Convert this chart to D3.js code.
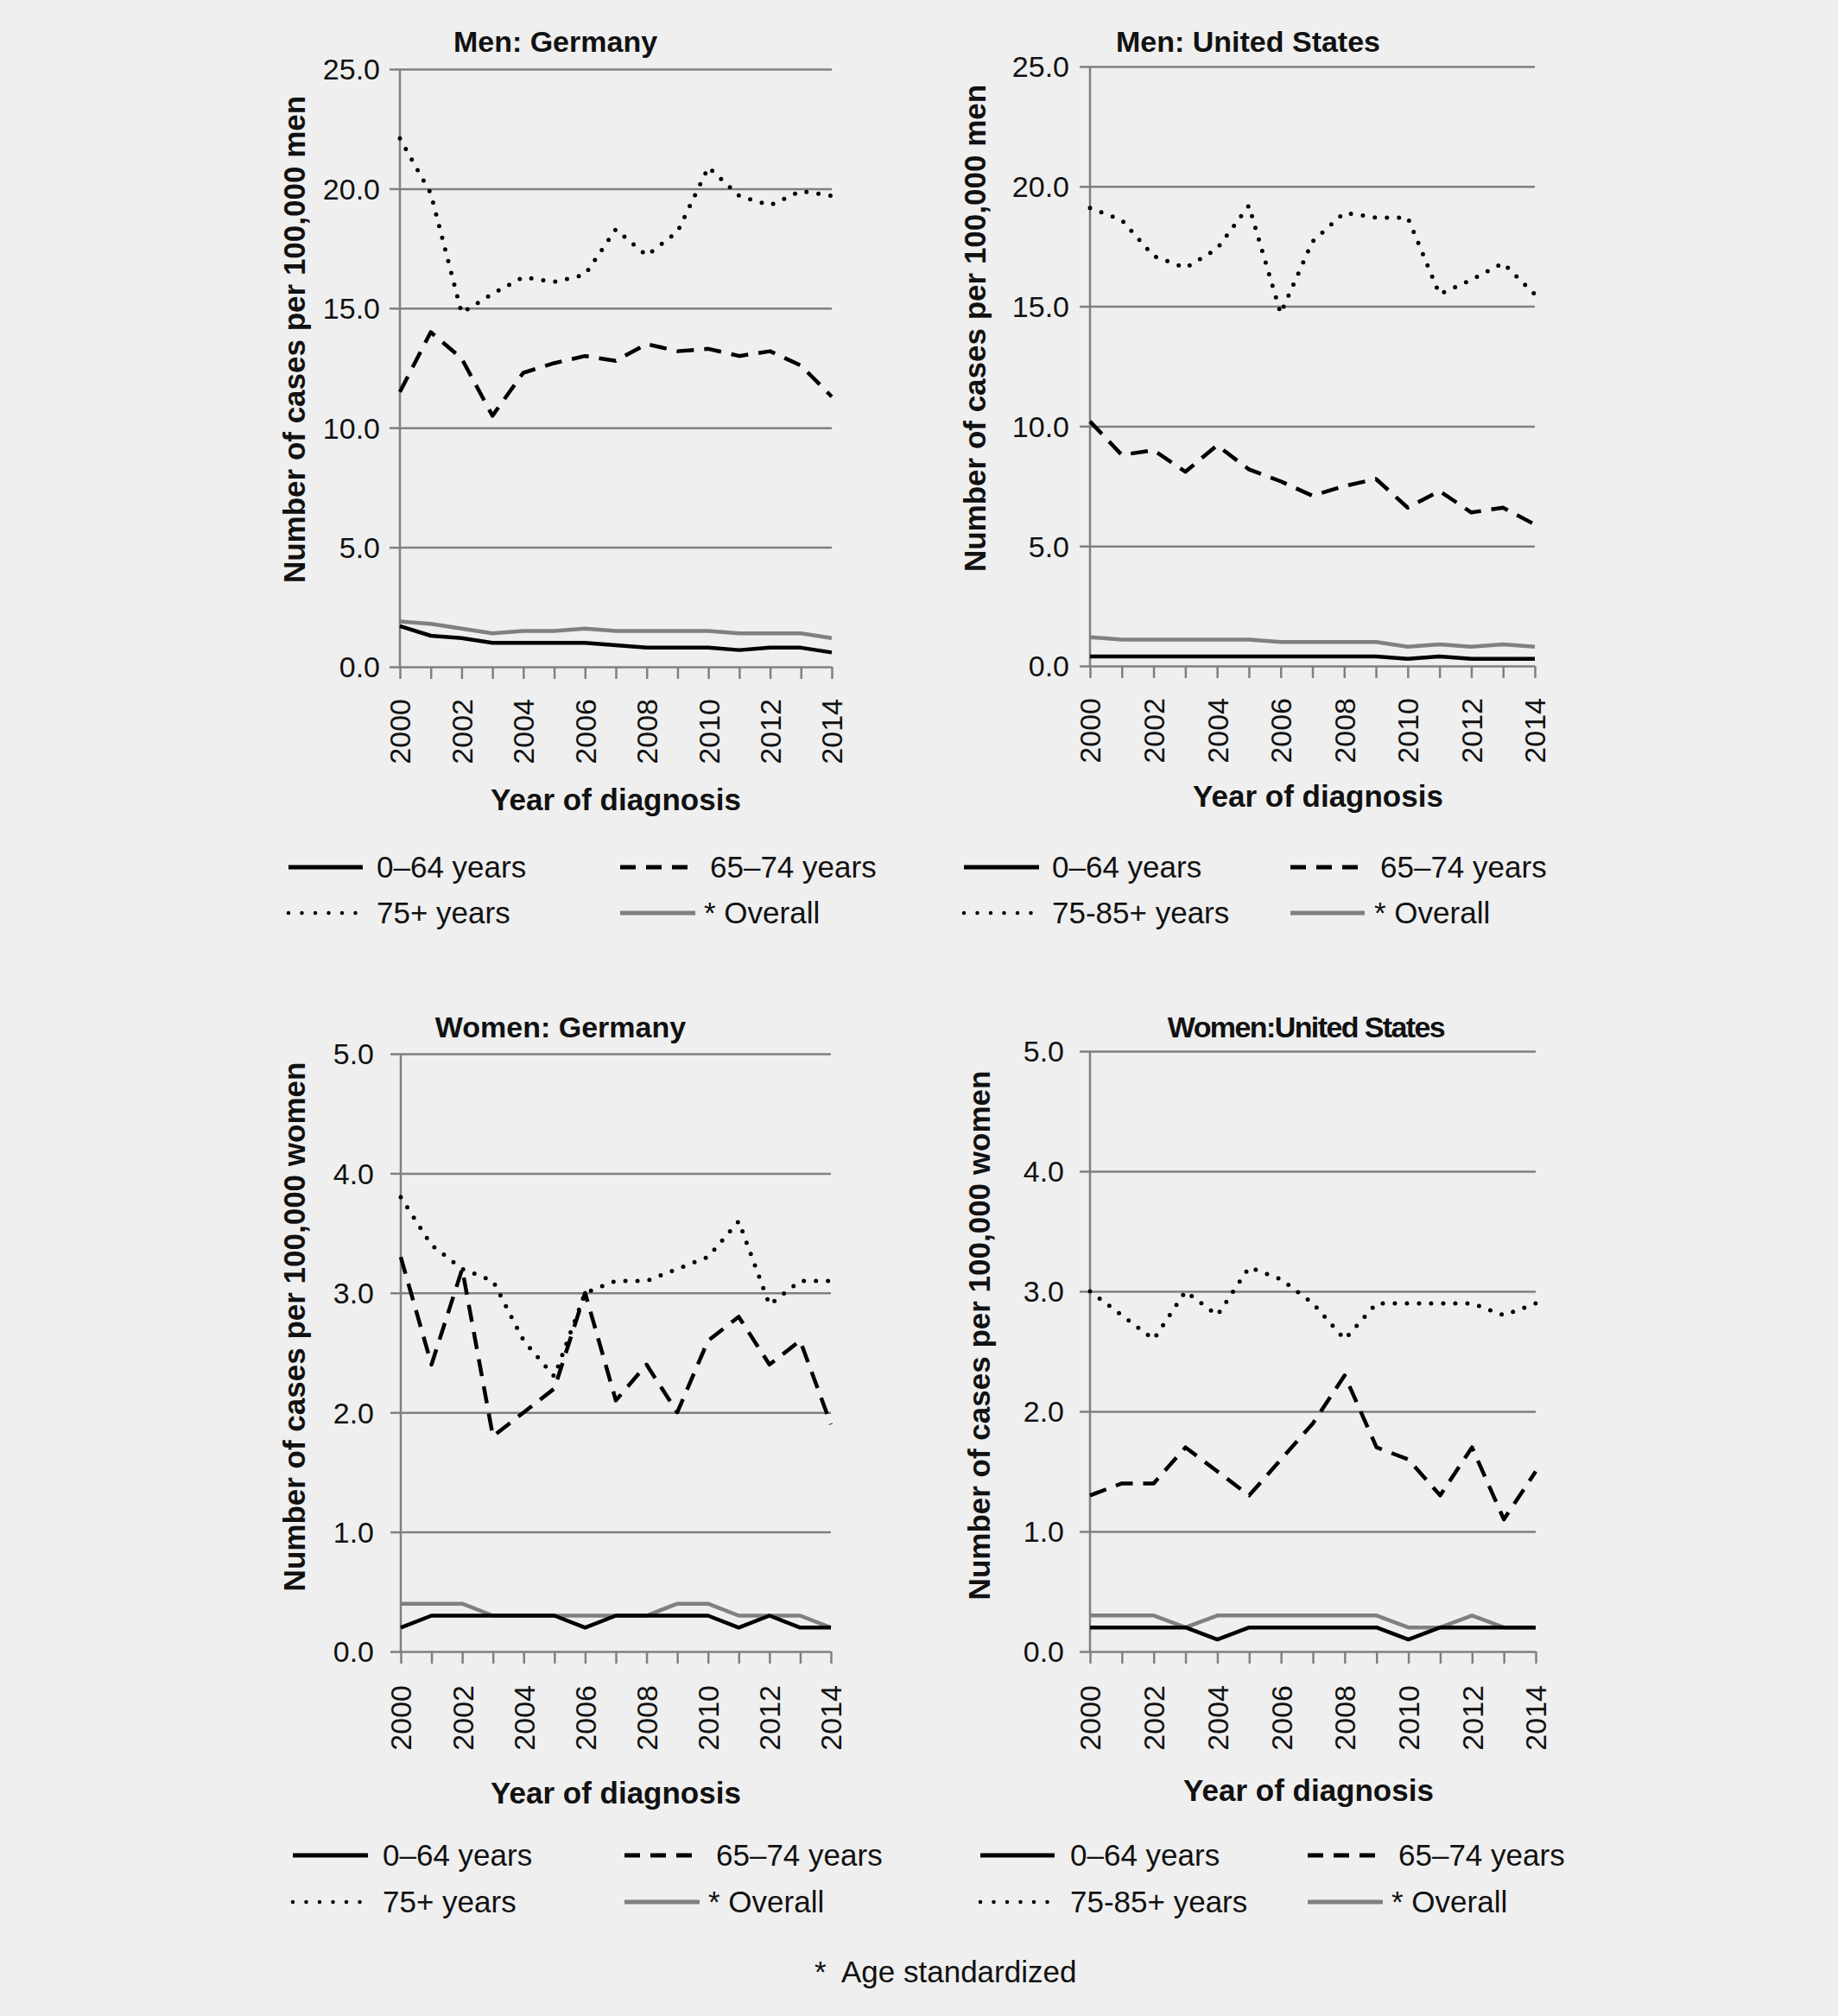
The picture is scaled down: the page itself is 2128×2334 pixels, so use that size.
<!DOCTYPE html>
<html>
<head>
<meta charset="utf-8">
<script src="https://cdn.jsdelivr.net/npm/d3@7"></script>
<style>
  html, body { margin: 0; padding: 0; background: #efefef; }
  svg { display: block; }
  text { font-family: "Liberation Sans", Arial, Helvetica, sans-serif; fill: #111; }
</style>
</head>
<body>
<svg id="chart" width="2128" height="2334"></svg>
<script>
// ---------------- DATA ----------------
const years = [2000, 2001, 2002, 2003, 2004, 2005, 2006, 2007, 2008, 2009, 2010, 2011, 2012, 2013, 2014];
const yearTickLabels = [2000, 2002, 2004, 2006, 2008, 2010, 2012, 2014];

const menTicks = [0, 5, 10, 15, 20, 25];
const womenTicks = [0, 1, 2, 3, 4, 5];

const menGermany_0_64   = [1.7, 1.3, 1.2, 1.0, 1.0, 1.0, 1.0, 0.9, 0.8, 0.8, 0.8, 0.7, 0.8, 0.8, 0.6];
const menGermany_65_74  = [11.5, 14.0, 12.9, 10.5, 12.3, 12.7, 13.0, 12.8, 13.5, 13.2, 13.3, 13.0, 13.2, 12.6, 11.3];
const menGermany_75     = [22.1, 19.8, 14.8, 15.6, 16.3, 16.1, 16.4, 18.3, 17.2, 18.2, 20.9, 19.7, 19.3, 19.9, 19.7];
const menGermany_overall= [1.9, 1.8, 1.6, 1.4, 1.5, 1.5, 1.6, 1.5, 1.5, 1.5, 1.5, 1.4, 1.4, 1.4, 1.2];

const menUS_0_64   = [0.4, 0.4, 0.4, 0.4, 0.4, 0.4, 0.4, 0.4, 0.4, 0.4, 0.3, 0.4, 0.3, 0.3, 0.3];
const menUS_65_74  = [10.2, 8.8, 9.0, 8.1, 9.2, 8.2, 7.7, 7.1, 7.5, 7.8, 6.6, 7.3, 6.4, 6.6, 5.9];
const menUS_75     = [19.1, 18.6, 17.1, 16.6, 17.4, 19.2, 14.7, 17.7, 18.9, 18.7, 18.7, 15.5, 16.1, 16.8, 15.5];
const menUS_overall= [1.2, 1.1, 1.1, 1.1, 1.1, 1.1, 1.0, 1.0, 1.0, 1.0, 0.8, 0.9, 0.8, 0.9, 0.8];

const womenGermany_0_64   = [0.2, 0.3, 0.3, 0.3, 0.3, 0.3, 0.2, 0.3, 0.3, 0.3, 0.3, 0.2, 0.3, 0.2, 0.2];
const womenGermany_65_74  = [3.3, 2.4, 3.2, 1.8, 2.0, 2.2, 3.0, 2.1, 2.4, 2.0, 2.6, 2.8, 2.4, 2.6, 1.9];
const womenGermany_75     = [3.8, 3.4, 3.2, 3.1, 2.6, 2.3, 3.0, 3.1, 3.1, 3.2, 3.3, 3.6, 2.9, 3.1, 3.1];
const womenGermany_overall= [0.4, 0.4, 0.4, 0.3, 0.3, 0.3, 0.3, 0.3, 0.3, 0.4, 0.4, 0.3, 0.3, 0.3, 0.2];

const womenUS_0_64   = [0.2, 0.2, 0.2, 0.2, 0.1, 0.2, 0.2, 0.2, 0.2, 0.2, 0.1, 0.2, 0.2, 0.2, 0.2];
const womenUS_65_74  = [1.3, 1.4, 1.4, 1.7, 1.5, 1.3, 1.6, 1.9, 2.3, 1.7, 1.6, 1.3, 1.7, 1.1, 1.5];
const womenUS_75     = [3.0, 2.8, 2.6, 3.0, 2.8, 3.2, 3.1, 2.9, 2.6, 2.9, 2.9, 2.9, 2.9, 2.8, 2.9];
const womenUS_overall= [0.3, 0.3, 0.3, 0.2, 0.3, 0.3, 0.3, 0.3, 0.3, 0.3, 0.2, 0.2, 0.3, 0.2, 0.2];

const panelTitles = ["Men: Germany", "Men: United States", "Women: Germany", "Women:United States"];
const yAxisTitles = ["Number of cases per 100,000 men", "Number of cases per 100,000 men",
                     "Number of cases per 100,000 women", "Number of cases per 100,000 women"];
const xAxisTitle = "Year of diagnosis";
const legendLabelsGermany = ["0\u201364 years", "65\u201374 years", "75+ years", "* Overall"];
const legendLabelsUS = ["0\u201364 years", "65\u201374 years", "75-85+ years", "* Overall"];
const footnoteMark = "*";
const footnoteText = "Age standardized";

// ---------------- STYLES ----------------
const styles = {
  solid:   { stroke: "#000", width: 4.5, dash: null, cap: "butt" },
  dashed:  { stroke: "#000", width: 4.5, dash: "20 12", cap: "butt" },
  dotted:  { stroke: "#000", width: 5, dash: "0 14", cap: "round" },
  overall: { stroke: "#808080", width: 4.5, dash: null, cap: "butt" }
};
const gridColor = "#808080";

// ---------------- LAYOUT ----------------
const panels = [
  { title: panelTitles[0], titleX: 643, titleY: 60, ls: 0,
    x0: 463, x1: 963, yTop: 80, yBot: 772, ymax: 25, ticks: menTicks,
    yTitle: yAxisTitles[0], yTitleX: 341, yTitleY: 393, labelRight: 440,
    xLabelEnd: 809, xTitleX: 713, xTitleY: 938,
    legend: { rows: [1004, 1057], c1: [334, 420], t1: 436, c2d: [718, 797], t2d: 822, c2g: [718, 805], t2g: 815 },
    labels: legendLabelsGermany,
    series: [menGermany_overall, menGermany_0_64, menGermany_65_74, menGermany_75] },
  { title: panelTitles[1], titleX: 1445, titleY: 60, ls: 0,
    x0: 1262, x1: 1777, yTop: 77, yBot: 771, ymax: 25, ticks: menTicks,
    yTitle: yAxisTitles[1], yTitleX: 1129, yTitleY: 380, labelRight: 1238,
    xLabelEnd: 808, xTitleX: 1526, xTitleY: 934,
    legend: { rows: [1004, 1057], c1: [1116, 1203], t1: 1218, c2d: [1494, 1572], t2d: 1598, c2g: [1494, 1580], t2g: 1591 },
    labels: legendLabelsUS,
    series: [menUS_overall, menUS_0_64, menUS_65_74, menUS_75] },
  { title: panelTitles[2], titleX: 649, titleY: 1201, ls: 0,
    x0: 464, x1: 962, yTop: 1220, yBot: 1912, ymax: 5, ticks: womenTicks,
    yTitle: yAxisTitles[2], yTitleX: 341, yTitleY: 1536, labelRight: 433,
    xLabelEnd: 1951, xTitleX: 713, xTitleY: 2088,
    legend: { rows: [2148, 2202], c1: [339, 426], t1: 443, c2d: [723, 803], t2d: 829, c2g: [723, 810], t2g: 820 },
    labels: legendLabelsGermany,
    series: [womenGermany_overall, womenGermany_0_64, womenGermany_65_74, womenGermany_75] },
  { title: panelTitles[3], titleX: 1512, titleY: 1201, ls: -1.6,
    x0: 1262, x1: 1778, yTop: 1217, yBot: 1912, ymax: 5, ticks: womenTicks,
    yTitle: yAxisTitles[3], yTitleX: 1134, yTitleY: 1546, labelRight: 1232,
    xLabelEnd: 1951, xTitleX: 1515, xTitleY: 2085,
    legend: { rows: [2148, 2202], c1: [1135, 1221], t1: 1239, c2d: [1514, 1593], t2d: 1619, c2g: [1514, 1601], t2g: 1611 },
    labels: legendLabelsUS,
    series: [womenUS_overall, womenUS_0_64, womenUS_65_74, womenUS_75] }
];
const seriesStyles = [styles.overall, styles.solid, styles.dashed, styles.dotted];

const svg = d3.select("#chart");
svg.append("rect").attr("width", 2128).attr("height", 2334).attr("fill", "#efefef");

const fmt = d3.format(".1f");

panels.forEach(p => {
  const g = svg.append("g");
  const x = d3.scaleLinear().domain([years[0], years[years.length - 1]]).range([p.x0, p.x1]);
  const y = d3.scaleLinear().domain([0, p.ymax]).range([p.yBot, p.yTop]);

  // gridlines + y tick labels via axis
  const yAxis = d3.axisLeft(y).tickValues(p.ticks).tickFormat(fmt)
    .tickSize(-(p.x1 - p.x0)).tickSizeOuter(0).tickPadding(0);
  const ya = g.append("g").attr("transform", `translate(${p.x0},0)`).call(yAxis);
  ya.select(".domain").remove();
  ya.selectAll(".tick line").attr("stroke", gridColor).attr("stroke-width", 2.5);
  ya.selectAll(".tick").append("line")
    .attr("x1", -12).attr("x2", 0).attr("stroke", gridColor).attr("stroke-width", 2.5);
  ya.selectAll(".tick text")
    .attr("x", p.labelRight - p.x0).attr("dy", "0.35em")
    .attr("text-anchor", "end").attr("font-size", 34).attr("fill", "#111")
    .style("font-family", "'Liberation Sans', Arial, sans-serif");

  // x axis ticks (every year), labels every 2 years
  const xAxis = d3.axisBottom(x).tickValues(years).tickSize(14).tickSizeOuter(0)
    .tickFormat(d => yearTickLabels.includes(d) ? String(d) : "");
  const xa = g.append("g").attr("transform", `translate(0,${p.yBot})`).call(xAxis);
  xa.select(".domain").remove();
  xa.selectAll(".tick line").attr("stroke", gridColor).attr("stroke-width", 2.5);
  xa.selectAll(".tick text")
    .attr("transform", `translate(0,${p.xLabelEnd - p.yBot}) rotate(-90)`)
    .attr("x", 0).attr("y", 0).attr("dy", "0.35em")
    .attr("text-anchor", "end").attr("font-size", 34).attr("fill", "#111")
    .style("font-family", "'Liberation Sans', Arial, sans-serif");

  // y axis vertical line
  g.append("line").attr("x1", p.x0).attr("x2", p.x0)
    .attr("y1", p.yTop).attr("y2", p.yBot)
    .attr("stroke", gridColor).attr("stroke-width", 2.5);

  // series
  const line = d3.line().x((d, i) => x(years[i])).y(d => y(d));
  p.series.forEach((s, k) => {
    const st = seriesStyles[k];
    const path = g.append("path").datum(s).attr("d", line)
      .attr("fill", "none").attr("stroke", st.stroke).attr("stroke-width", st.width)
      .attr("stroke-linecap", st.cap).attr("stroke-linejoin", "round");
    if (st.dash) path.attr("stroke-dasharray", st.dash);
  });

  // title
  g.append("text").attr("x", p.titleX).attr("y", p.titleY)
    .attr("text-anchor", "middle").attr("font-size", 34).attr("font-weight", "bold")
    .attr("letter-spacing", p.ls).text(p.title);

  // y axis title
  g.append("text")
    .attr("transform", `translate(${p.yTitleX},${p.yTitleY}) rotate(-90)`)
    .attr("dy", "0.35em").attr("text-anchor", "middle")
    .attr("font-size", 35).attr("font-weight", "bold").text(p.yTitle);

  // x axis title
  g.append("text").attr("x", p.xTitleX).attr("y", p.xTitleY)
    .attr("text-anchor", "middle").attr("font-size", 35).attr("font-weight", "bold")
    .text(xAxisTitle);

  // legend
  const L = p.legend;
  const items = [
    { st: styles.solid,   xs: L.c1,  tx: L.t1,  row: 0, label: p.labels[0] },
    { st: styles.dashed,  xs: L.c2d, tx: L.t2d, row: 0, label: p.labels[1] },
    { st: styles.dotted,  xs: [L.c1[0], L.c1[0] + 78], tx: L.t1, row: 1, label: p.labels[2] },
    { st: styles.overall, xs: L.c2g, tx: L.t2g, row: 1, label: p.labels[3] }
  ];
  items.forEach(it => {
    const ly = L.rows[it.row];
    const ln = g.append("line").attr("x1", it.xs[0]).attr("x2", it.xs[1])
      .attr("y1", ly).attr("y2", ly)
      .attr("stroke", it.st.stroke).attr("stroke-width", it.st === styles.dotted ? 4.5 : 5)
      .attr("stroke-linecap", it.st.cap);
    if (it.st === styles.dashed) ln.attr("stroke-dasharray", "18 12");
    if (it.st === styles.dotted) ln.attr("stroke-dasharray", "0 15.5");
    g.append("text").attr("x", it.tx).attr("y", ly + 12)
      .attr("font-size", 35).text(it.label);
  });
});

// footnote
svg.append("text").attr("x", 943).attr("y", 2295).attr("font-size", 35).text(footnoteMark);
svg.append("text").attr("x", 974).attr("y", 2295).attr("font-size", 35).text(footnoteText);
</script>
</body>
</html>
